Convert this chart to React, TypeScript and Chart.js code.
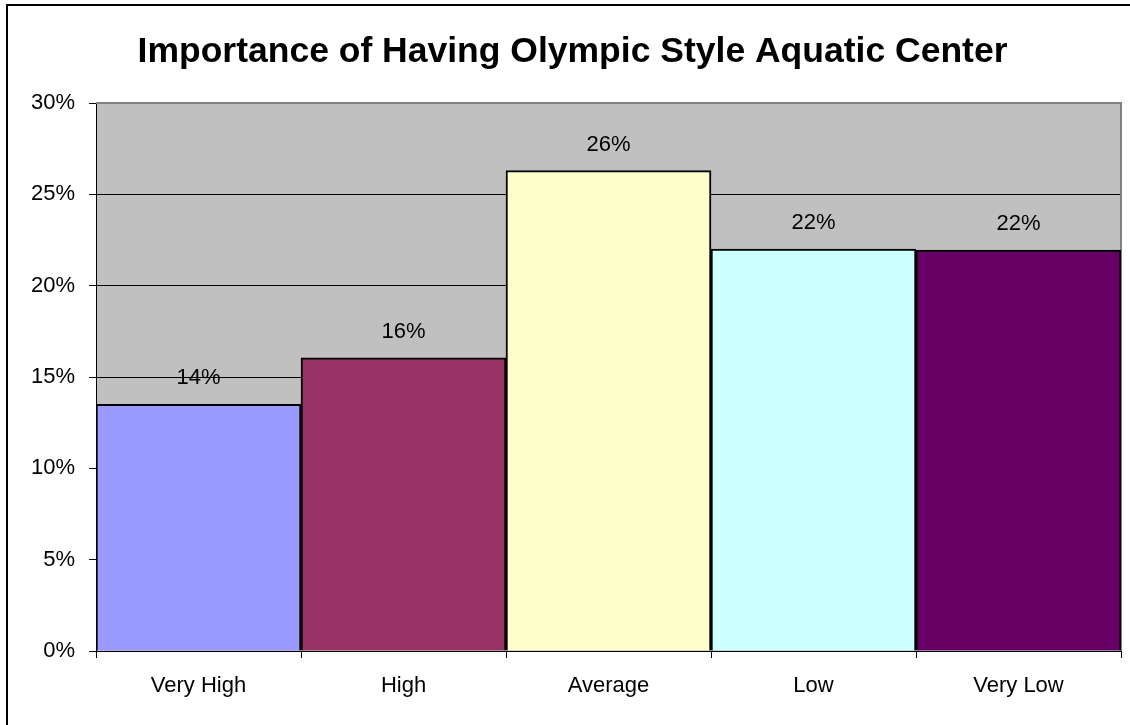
import React, { useEffect, useRef } from "react";
import { Chart, registerables } from "chart.js";

Chart.register(...registerables);

const chartTitle = "Importance of Having Olympic Style Aquatic Center";
const categories = ["Very High", "High", "Average", "Low", "Very Low"];
const values = [13.5, 16.05, 26.3, 22.0, 21.95];
const barColors = ["#9999FF", "#993366", "#FFFFCC", "#CCFFFF", "#660066"];
const yMin = 0;
const yMax = 30;
const yStep = 5;

const FONT = "'Liberation Sans', Arial, sans-serif";

const plotBgPlugin = {
  id: "plotBg",
  beforeDraw(chart: any) {
    const { ctx, chartArea } = chart;
    ctx.save();
    ctx.fillStyle = "#C0C0C0";
    ctx.fillRect(chartArea.left, chartArea.top, chartArea.right - chartArea.left, chartArea.bottom - chartArea.top);
    ctx.restore();
  },
  beforeDatasetsDraw(chart: any) {
    const { ctx, chartArea } = chart;
    ctx.save();
    ctx.strokeStyle = "#808080";
    ctx.lineWidth = 2;
    ctx.beginPath();
    ctx.moveTo(chartArea.left, chartArea.top);
    ctx.lineTo(chartArea.right, chartArea.top);
    ctx.lineTo(chartArea.right, chartArea.bottom);
    ctx.stroke();
    ctx.restore();
  },
};

const dataLabelPlugin = {
  id: "dataLabels",
  afterDatasetsDraw(chart: any) {
    const { ctx } = chart;
    const meta = chart.getDatasetMeta(0);
    ctx.save();
    ctx.font = `22px ${FONT}`;
    ctx.fillStyle = "#000";
    ctx.textAlign = "center";
    ctx.textBaseline = "middle";
    meta.data.forEach((bar: any, i: number) => {
      const v = chart.data.datasets[0].data[i] as number;
      ctx.fillText(`${Math.round(v)}%`, bar.x, bar.y - 26);
    });
    ctx.restore();
  },
};

export default function App() {
  const canvasRef = useRef<HTMLCanvasElement | null>(null);

  useEffect(() => {
    if (!canvasRef.current) return;
    const chart = new Chart(canvasRef.current, {
      type: "bar",
      data: {
        labels: categories,
        datasets: [
          {
            data: values,
            backgroundColor: barColors,
            borderColor: "#000",
            borderWidth: 2,
            categoryPercentage: 1,
            barPercentage: 1,
          },
        ],
      },
      options: {
        responsive: false,
        animation: false,
        layout: { padding: { top: 0, left: 24, right: 9, bottom: 0 } },
        plugins: {
          legend: { display: false },
          tooltip: { enabled: false },
          title: {
            display: true,
            text: chartTitle,
            color: "#000",
            font: { family: FONT, size: 35.5, weight: "bold", lineHeight: 1.2 },
            padding: { top: 30.5, bottom: 29.9 },
          },
        },
        scales: {
          x: {
            afterFit: (scale: any) => {
              scale.height = 74;
            },
            grid: {
              offset: true,
              drawOnChartArea: false,
              drawTicks: true,
              tickLength: 7,
              tickColor: "#000",
            },
            border: { color: "#000", width: 1 },
            ticks: {
              color: "#000",
              padding: 15,
              font: { family: FONT, size: 22 },
            },
          },
          y: {
            min: yMin,
            max: yMax,
            afterFit: (scale: any) => {
              scale.width = 72;
            },
            grid: {
              color: (c: any) => (c.tick && c.tick.value === yMax ? "rgba(0,0,0,0)" : "#000"),
              lineWidth: 1,
              drawTicks: true,
              tickLength: 7,
              tickColor: "#000",
            },
            border: { color: "#000", width: 1 },
            ticks: {
              stepSize: yStep,
              color: "#000",
              padding: 14,
              font: { family: FONT, size: 22 },
              callback: (v: any) => `${v}%`,
            },
          },
        },
      },
      plugins: [plotBgPlugin, dataLabelPlugin],
    });
    return () => chart.destroy();
  }, []);

  return (
    <div
      style={{
        position: "absolute",
        left: 0,
        top: 0,
        width: 1130,
        height: 725,
        overflow: "hidden",
        background: "#fff",
      }}
    >
      <canvas
        ref={canvasRef}
        width={1130}
        height={725}
        style={{ position: "absolute", left: 0, top: 0, width: 1130, height: 725 }}
      />
      <div
        style={{
          position: "absolute",
          left: 6,
          top: 4,
          width: 1140,
          height: 740,
          border: "2px solid #000",
          boxSizing: "border-box",
          pointerEvents: "none",
        }}
      />
    </div>
  );
}
